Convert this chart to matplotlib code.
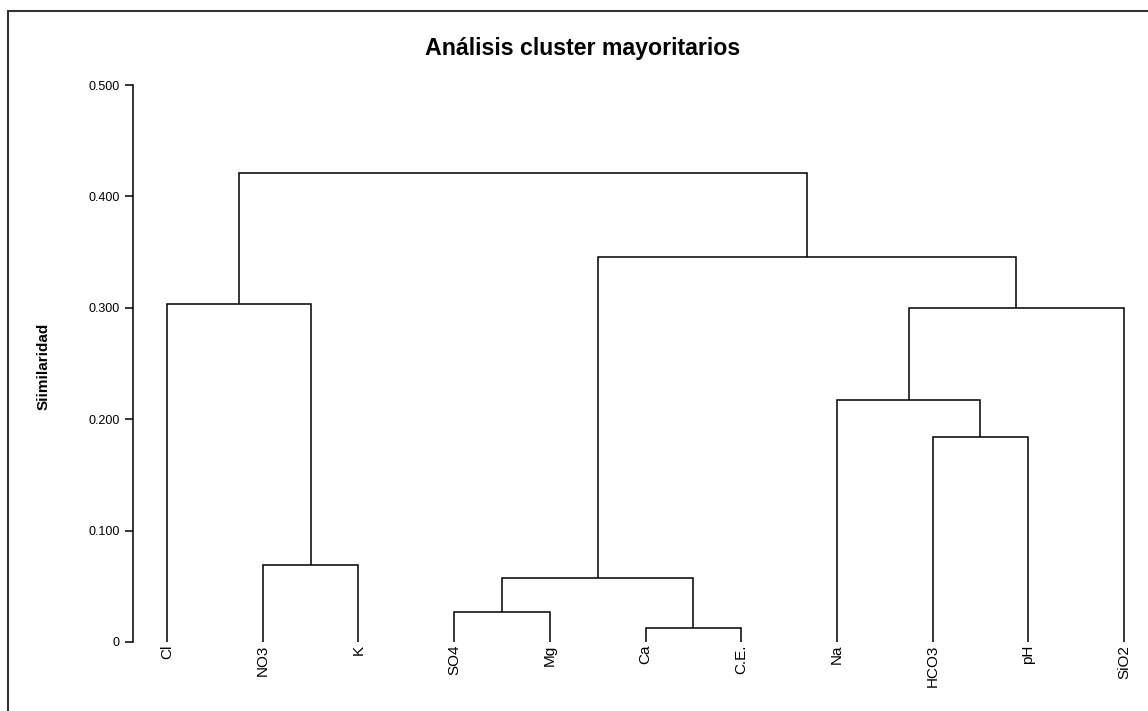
import matplotlib
matplotlib.use("Agg")
import matplotlib.pyplot as plt
from matplotlib.patches import Rectangle

# leaves in dendrogram order
leaves = ["Cl", "NO3", "K", "SO4", "Mg", "Ca", "C.E.", "Na", "HCO3", "pH", "SiO2"]

# merges: ids 0..10 are leaves, merge k gets id 11+k
merge_left = [5, 3, 12, 1, 8, 7, 16, 0, 13, 18]
merge_right = [6, 4, 11, 2, 9, 15, 10, 14, 17, 19]
merge_height = [0.0126, 0.027, 0.0575, 0.069, 0.184, 0.217, 0.300, 0.3037, 0.346, 0.421]

yticks = [0, 0.1, 0.2, 0.3, 0.4, 0.5]
ytick_labels = ["0", "0.100", "0.200", "0.300", "0.400", "0.500"]

plt.rcParams['font.family'] = ['Liberation Sans', 'DejaVu Sans']

fig = plt.figure(figsize=(11.48, 7.11), dpi=100)
ax = fig.add_axes([132.7 / 1148, 1 - 642 / 711, (1140 - 132.7) / 1148, (642 - 85) / 711])

# x position and height of every node
xpos = {i: float(i) for i in range(len(leaves))}
hpos = {i: 0.0 for i in range(len(leaves))}
for k, (l, r, h) in enumerate(zip(merge_left, merge_right, merge_height)):
    node = len(leaves) + k
    ax.plot([xpos[l], xpos[l], xpos[r], xpos[r]], [hpos[l], h, h, hpos[r]],
            color="black", lw=1.1, solid_joinstyle="miter", solid_capstyle="butt")
    xpos[node] = (xpos[l] + xpos[r]) / 2
    hpos[node] = h

ax.set_xlim((132.7 - 167) / 95.7, (1140 - 167) / 95.7)
ax.set_ylim(0, 0.5)

for s in ["top", "right", "bottom"]:
    ax.spines[s].set_visible(False)
ax.spines["left"].set_linewidth(1.1)

ax.set_yticks(yticks)
ax.set_yticklabels(ytick_labels, fontsize=9)
ax.tick_params(axis="y", length=6, width=1.1, pad=3.5)

ax.set_xticks(range(len(leaves)))
ax.set_xticklabels(leaves, rotation=90, fontsize=11)
ax.tick_params(axis="x", length=0, pad=2)

fig.text(583 / 1148, 1 - 49 / 711, "Análisis cluster mayoritarios",
         ha="center", va="center", fontsize=16.7, fontweight="bold")
fig.text(44 / 1148, 1 - 366 / 711, "Siimilaridad", rotation=90,
         ha="center", va="center", fontsize=11, fontweight="bold")

# outer frame, cropped on the right and bottom
fig.patches.append(Rectangle((8 / 1148, -0.1), 1.2, 1.1 - 11 / 711,
                             transform=fig.transFigure, fill=False,
                             edgecolor="#333333", lw=1.5))

fig.savefig("out.png", dpi=100)
